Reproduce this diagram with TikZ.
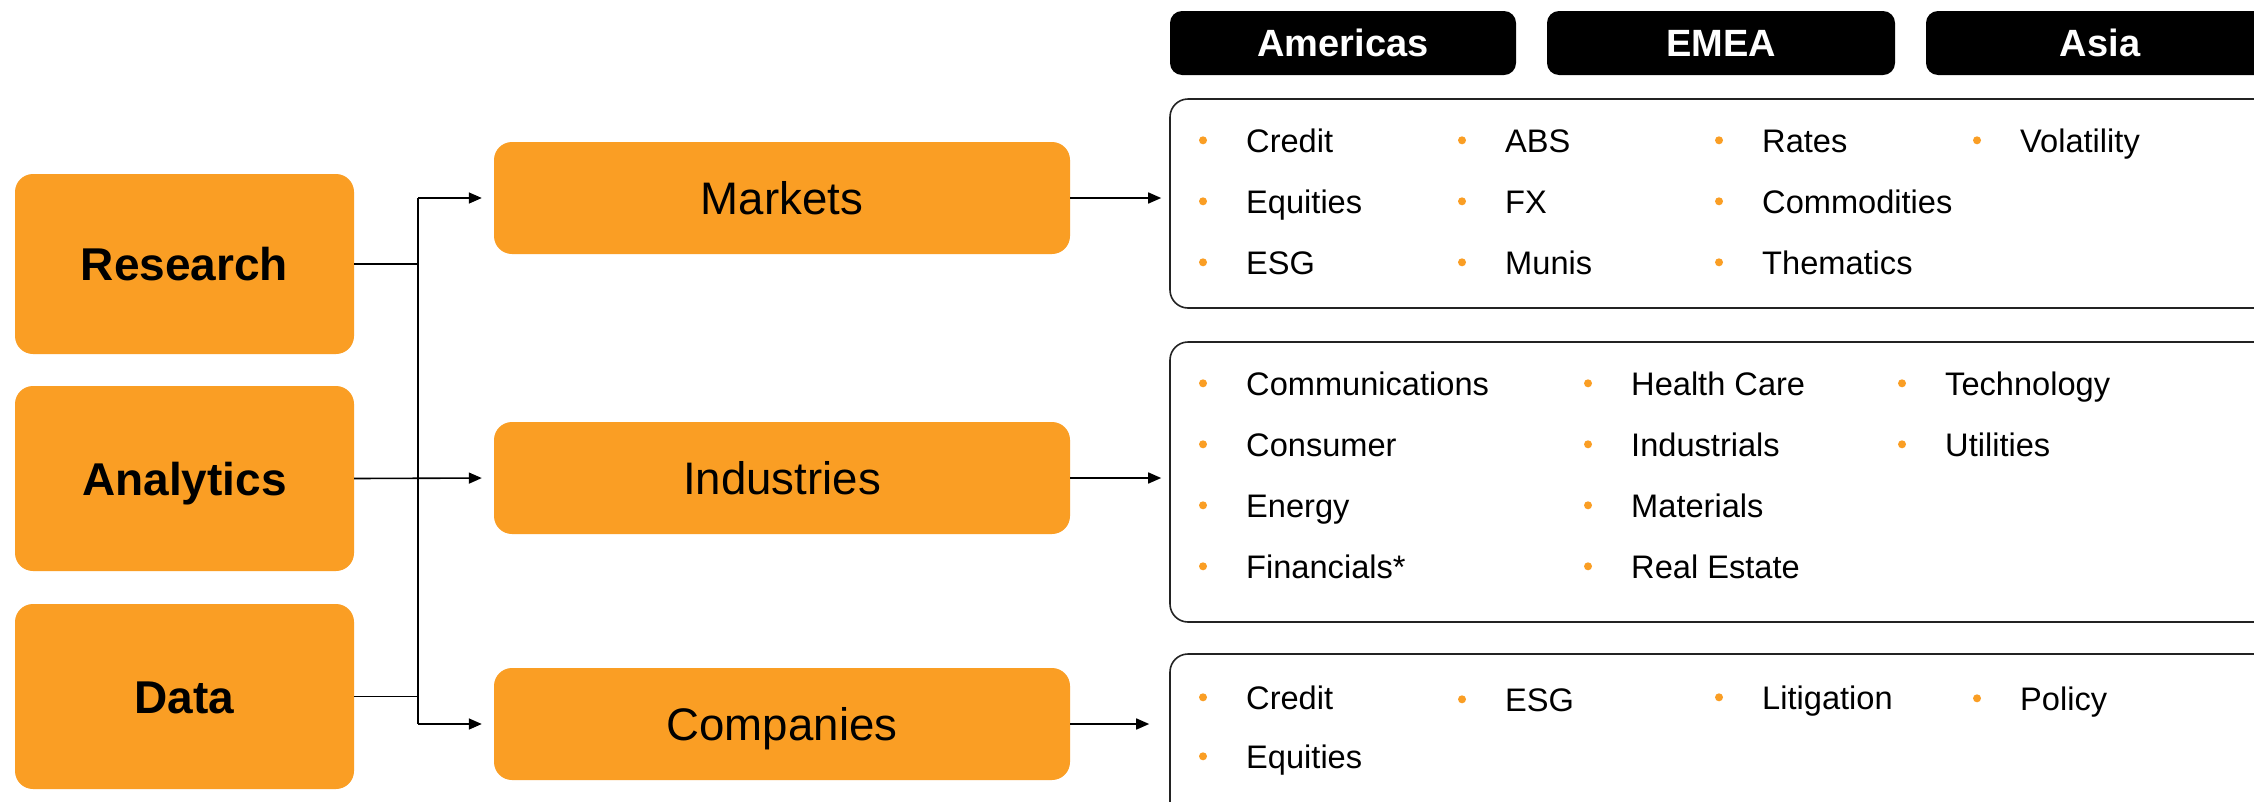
\documentclass[tikz,border=0pt]{standalone}
\usepackage{fontspec}
\setmainfont{Liberation Sans}
\usetikzlibrary{arrows.meta}
\definecolor{orng}{RGB}{250,158,36}
\definecolor{bord}{RGB}{35,35,35}
\newcommand\bulitem[4]{\node[itm] (#1) at (#2,#3) {#4};
  \fill[orng] ([xshift=-43pt,yshift=11.7pt]#1.base west) circle (4pt);}
\begin{document}
\begin{tikzpicture}[x=1pt,y=-1pt,
  obox/.style={fill=orng, rounded corners=18pt, inner sep=0pt, text depth=0pt},
  lbox/.style={obox, minimum width=339pt, font=\fontsize{46}{50}\selectfont\bfseries, text height=33pt},
  mbox/.style={obox, minimum width=576pt, minimum height=112pt, font=\fontsize{45.6}{50}\selectfont, text height=32.6pt},
  hdr/.style={fill=black, rounded corners=12pt, inner sep=0pt, text=white, minimum height=64pt,
    font=\fontsize{38}{42}\selectfont\bfseries, text height=27.2pt, text depth=0pt},
  cbox/.style={draw=bord, line width=1.6pt, rounded corners=18pt, inner sep=0pt},
  itm/.style={anchor=base west, inner sep=0pt, font=\fontsize{32.6}{36}\selectfont},
  line/.style={line width=1.6pt, black},
  conn/.style={line, -{Triangle[length=13pt,width=11pt]}}]
\useasboundingbox (0,0) rectangle (2254,801);
\fill[white] (0,0) rectangle (2254,801);
\clip (0,0) rectangle (2254,801);
% left boxes
\node[lbox, minimum height=180pt] (R) at (184.5,264) {Research};
\node[lbox, minimum height=185pt] (A) at (184.5,478.5) {Analytics};
\node[lbox, minimum height=185pt] (D) at (184.5,696.5) {Data};
% middle boxes
\node[mbox] (M) at (782,198) {Markets};
\node[mbox] (I) at (782,478) {Industries};
\node[mbox] (C) at (782,724) {Companies};
% headers
\node[hdr, minimum width=346pt] (H1) at (1343,43) {Americas};
\node[hdr, minimum width=348pt] (H2) at (1721,43) {EMEA};
\node[hdr, minimum width=348pt] (H3) at (2100,43) {Asia};
% content boxes
\node[cbox, minimum width=1130pt, minimum height=209pt] (T) at (1735,203.5) {};
\node[cbox, minimum width=1130pt, minimum height=280pt] (Q) at (1735,482) {};
\node[cbox, minimum width=1130pt, minimum height=206pt] (B) at (1735,757) {};
% connectors left
\coordinate (bx) at ([xshift=64pt]R.east);
\draw[line] (R.east) -- (bx);
\draw[line] (D.east) -- (D.east -| bx);
\draw[line] (bx |- M.west) -- (bx |- C.west);
\draw[conn, shorten >=12pt] (bx |- M.west) -- (M.west);
\draw[conn, shorten >=12pt] (bx |- C.west) -- (C.west);
\draw[conn, shorten >=12pt] (A.east) -- (I.west);
% connectors right
\draw[conn, shorten >=8pt] (M.east) -- (M.east -| T.west);
\draw[conn, shorten >=8pt] (I.east) -- (I.east -| Q.west);
\draw[conn, shorten >=20pt] (C.east) -- (C.east -| B.west);
% top items
\bulitem{t1}{1246}{152}{Credit}
\bulitem{t2}{1246}{213}{Equities}
\bulitem{t3}{1246}{274}{ESG}
\bulitem{t4}{1505}{152}{ABS}
\bulitem{t5}{1505}{213}{FX}
\bulitem{t6}{1505}{274}{Munis}
\bulitem{t7}{1762}{152}{Rates}
\bulitem{t8}{1762}{213}{Commodities}
\bulitem{t9}{1762}{274}{Thematics}
\bulitem{t10}{2020}{152}{Volatility}
% middle items
\bulitem{m1}{1246}{395}{Communications}
\bulitem{m2}{1246}{456}{Consumer}
\bulitem{m3}{1246}{517}{Energy}
\bulitem{m4}{1246}{578}{Financials*}
\bulitem{m5}{1631}{395}{Health Care}
\bulitem{m6}{1631}{456}{Industrials}
\bulitem{m7}{1631}{517}{Materials}
\bulitem{m8}{1631}{578}{Real Estate}
\bulitem{m9}{1945}{395}{Technology}
\bulitem{m10}{1945}{456}{Utilities}
% bottom items
\bulitem{b1}{1246}{709}{Credit}
\bulitem{b2}{1505}{711}{ESG}
\bulitem{b3}{1762}{709}{Litigation}
\bulitem{b4}{2020}{710}{Policy}
\bulitem{b5}{1246}{768}{Equities}
\end{tikzpicture}
\end{document}
